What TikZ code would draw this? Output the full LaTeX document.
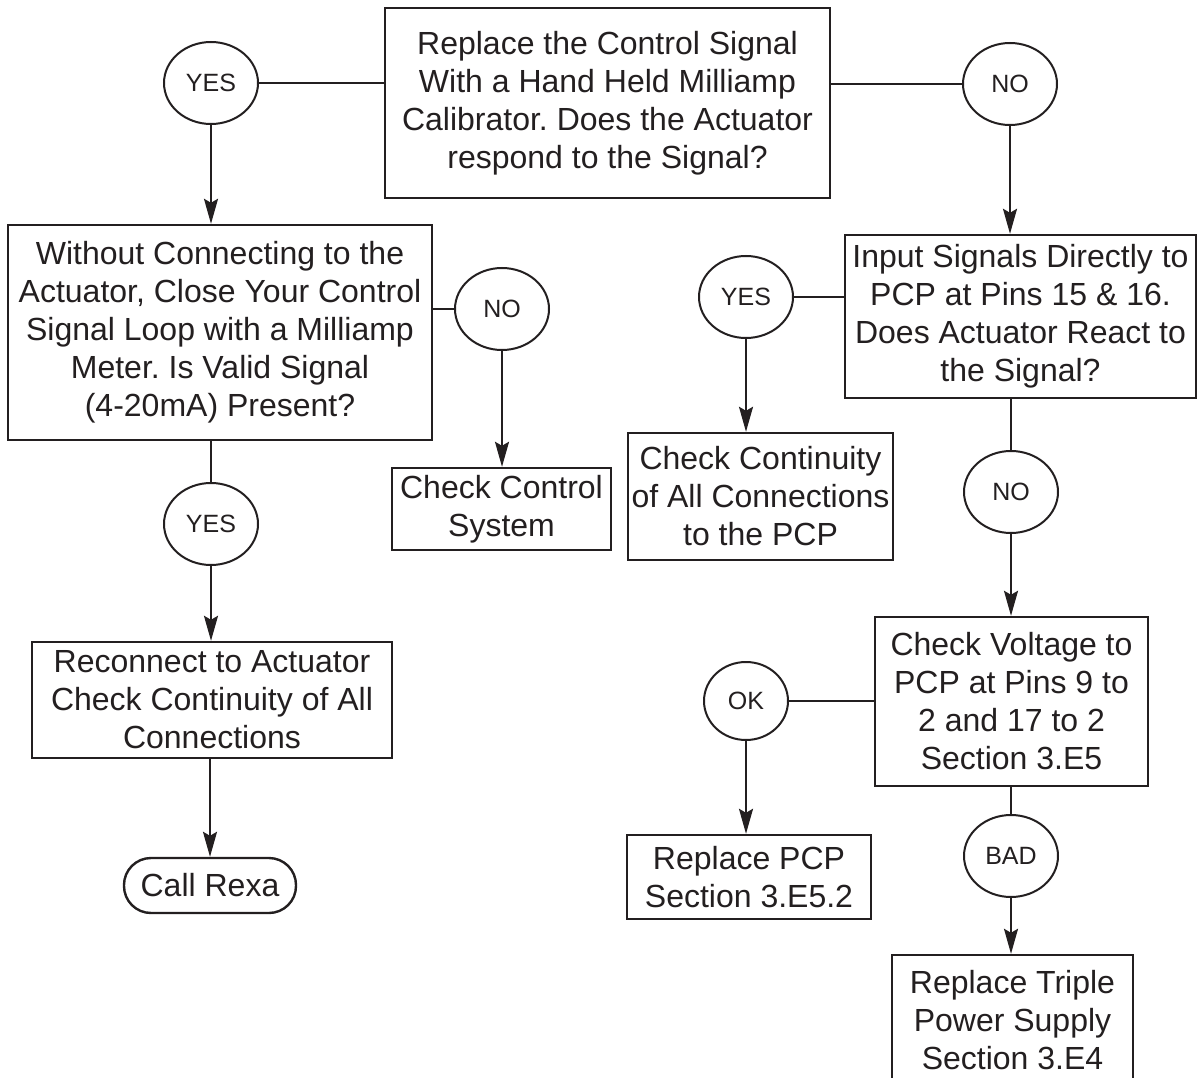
\documentclass[tikz,border=0pt]{standalone}
\usepackage{fontspec}
\setmainfont{Liberation Sans}
\usetikzlibrary{arrows.meta,shapes.geometric}
\definecolor{ink}{HTML}{231F20}
\frenchspacing
\begin{document}
\begin{tikzpicture}[x=1pt,y=-1pt,
  every node/.style={text=ink},
  stepbox/.style={draw=ink,line width=2.4pt,fill=white,align=center,inner sep=0pt,
    font=\fontsize{32}{38}\selectfont},
  answer/.style={draw=ink,line width=2pt,ellipse,inner sep=0pt,
    minimum width=94pt,minimum height=82pt,font=\fontsize{25}{28}\selectfont},
  link/.style={draw=ink,line width=2pt},
  flow/.style={link,-{Stealth[length=25pt,width=14pt,inset=4pt]}}]
\useasboundingbox (0,0) rectangle (1200,1078);
\fill[white] (0,0) rectangle (1200,1078);

% question and action boxes
\node[stepbox,minimum width=445pt,minimum height=190pt] (top) at (607.5,103)
  {Replace the Control Signal\\With a Hand Held Milliamp\\Calibrator. Does the Actuator\\respond to the Signal?};
\node[stepbox,minimum width=424pt,minimum height=215pt] (loop) at (220,332.5)
  {Without Connecting to the\\Actuator, Close Your Control\\Signal Loop with a Milliamp\\Meter. Is Valid Signal\\(4-20mA) Present?};
\node[stepbox,minimum width=219pt,minimum height=82pt] (ctrl) at (501.5,509)
  {Check Control\\System};
\node[stepbox,minimum width=360pt,minimum height=116pt] (recon) at (212,700)
  {Reconnect to Actuator\\Check Continuity of All\\Connections};
\node[stepbox,rounded corners=27pt,minimum width=172pt,minimum height=55pt] (rexa) at (210,885.5)
  {Call Rexa};
\node[stepbox,minimum width=351pt,minimum height=163pt] (input) at (1020.5,316.5)
  {Input Signals Directly to\\PCP at Pins 15 \& 16.\\Does Actuator React to\\the Signal?};
\node[stepbox,minimum width=265pt,minimum height=127pt] (cont) at (760.5,496.5)
  {Check Continuity\\of All Connections\\to the PCP};
\node[stepbox,minimum width=273pt,minimum height=169pt] (volt) at (1011.5,701.5)
  {Check Voltage to\\PCP at Pins 9 to\\2 and 17 to 2\\Section 3.E5};
\node[stepbox,minimum width=244pt,minimum height=84pt] (pcp) at (749,877)
  {Replace PCP\\Section 3.E5.2};
\node[stepbox,minimum width=241pt,minimum height=131pt] (supply) at (1012.5,1020.5)
  {Replace Triple\\Power Supply\\Section 3.E4};

% answer ovals
\node[answer] (yesA) at (211,83) {YES};
\node[answer] (noA) at (1010,84) {NO};
\node[answer] (noB) at (502,309) {NO};
\node[answer] (yesB) at (211,524) {YES};
\node[answer] (yesC) at (746,297) {YES};
\node[answer] (noC) at (1011,492) {NO};
\node[answer,minimum width=84pt,minimum height=78pt] (ok) at (746,701) {OK};
\node[answer] (bad) at (1011,856) {BAD};

% connectors
\draw[link] (yesA.east) -- (yesA.east -| top.west);
\draw[link] (noA.west) -- (noA.west -| top.east);
\draw[flow] (yesA.south) -- (yesA.south |- loop.north);
\draw[flow] (noA.south) -- (noA.south |- input.north);
\draw[link] (noB.west -| loop.east) -- (noB.west);
\draw[flow] (noB.south) -- (noB.south |- ctrl.north);
\draw[link] (yesB.north |- loop.south) -- (yesB.north);
\draw[flow] (yesB.south) -- (yesB.south |- recon.north);
\draw[flow] (rexa.north |- recon.south) -- (rexa.north);
\draw[link] (yesC.east) -- (yesC.east -| input.west);
\draw[flow] (yesC.south) -- (yesC.south |- cont.north);
\draw[link] (noC.north |- input.south) -- (noC.north);
\draw[flow] (noC.south) -- (noC.south |- volt.north);
\draw[link] (ok.east) -- (ok.east -| volt.west);
\draw[flow] (ok.south) -- (ok.south |- pcp.north);
\draw[link] (bad.north |- volt.south) -- (bad.north);
\draw[flow] (bad.south) -- (bad.south |- supply.north);
\end{tikzpicture}
\end{document}
